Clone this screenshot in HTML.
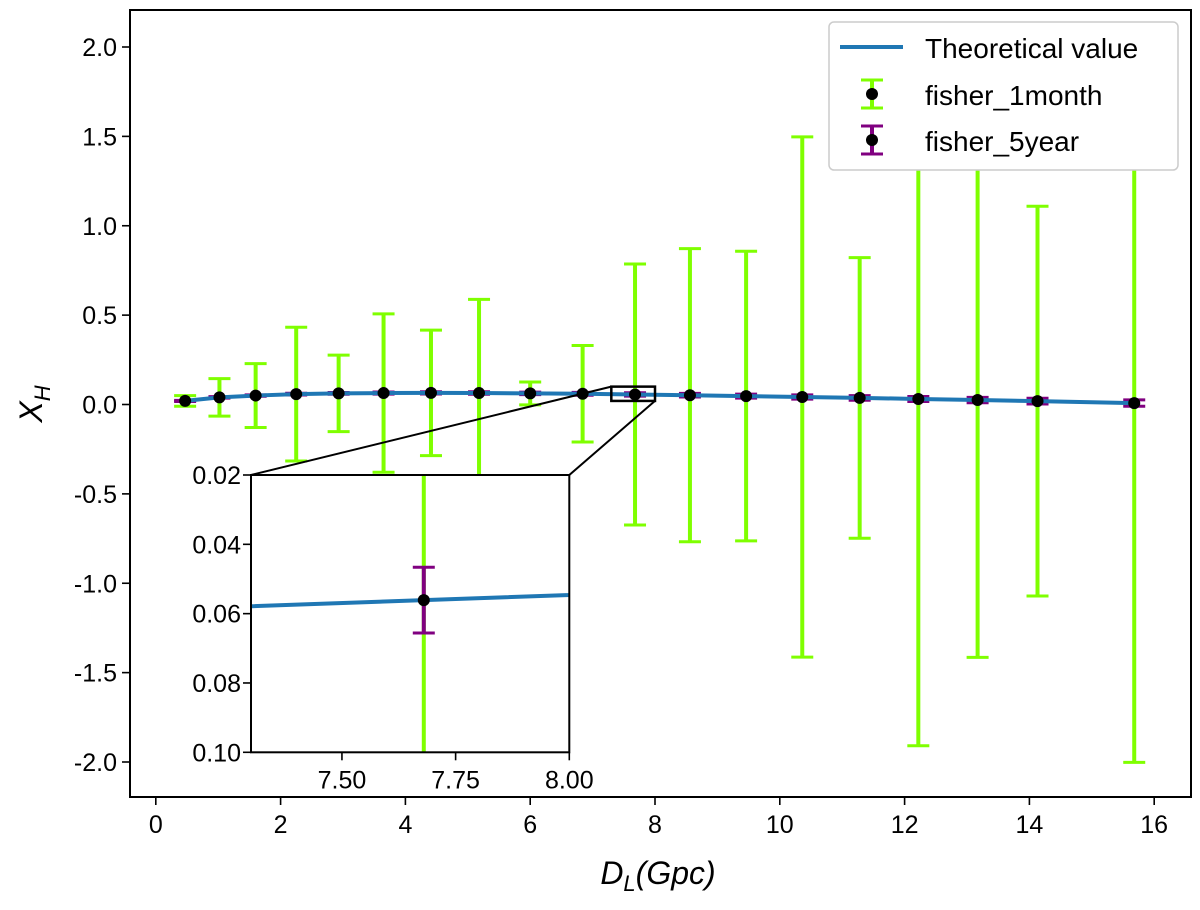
<!DOCTYPE html>
<html><head><meta charset="utf-8"><style>
html,body{margin:0;padding:0;background:#fff;overflow:hidden;}
svg{display:block;font-family:"Liberation Sans",sans-serif;}
</style></head><body>
<svg id="chart" width="1200" height="910" viewBox="0 0 1200 910" xmlns="http://www.w3.org/2000/svg">
<rect width="1200" height="910" fill="#fff"/>
<g id="main"></g>
</svg>
<script>
const distances = [0.47,1.02,1.60,2.25,2.93,3.65,4.41,5.18,6.00,6.84,7.68,8.56,9.46,10.36,11.28,12.22,13.17,14.13,15.68];
const xhValues = [0.020,0.040,0.050,0.058,0.062,0.064,0.065,0.064,0.062,0.060,0.0561,0.052,0.047,0.042,0.037,0.031,0.025,0.019,0.008];
const err1month = [0.03,0.105,0.179,0.374,0.214,0.443,0.351,0.524,0.064,0.27,0.73,0.82,0.81,1.455,0.785,1.94,1.44,1.09,2.01];
const err5year = [0.003,0.004,0.004,0.005,0.005,0.006,0.006,0.007,0.007,0.008,0.0095,0.010,0.011,0.012,0.013,0.014,0.015,0.016,0.018];
const xTicks = [0,2,4,6,8,10,12,14,16];
const yTicks = [2.0,1.5,1.0,0.5,0.0,-0.5,-1.0,-1.5,-2.0];
const insetXTicks = [7.50,7.75,8.00];
const insetYTicks = [0.02,0.04,0.06,0.08,0.10];

const NS="http://www.w3.org/2000/svg";
const root=document.getElementById('main');
function mk(tag,attrs,parent){const e=document.createElementNS(NS,tag);for(const k in attrs)e.setAttribute(k,attrs[k]);(parent||root).appendChild(e);return e;}
const L=130,R=1191,T=10,B=797;
const sx=v=>155.8+v*62.4;
const sy=v=>404.5-v*178.75;
const IL=251,IR=569.3,IT=475,IB=752.3;
const isx=v=>IL+(v-7.30)*(IR-IL)/0.70;
const isy=v=>IT+(v-0.02)*(IB-IT)/0.08;
const FS=25;

mk('defs',{}).innerHTML='<clipPath id="cm"><rect x="'+L+'" y="'+T+'" width="'+(R-L)+'" height="'+(B-T)+'"/></clipPath><clipPath id="ci"><rect x="'+IL+'" y="'+IT+'" width="'+(IR-IL)+'" height="'+(IB-IT)+'"/></clipPath>';

function drawSeries(g,fx,fy,capw,lw){
  distances.forEach((d,i)=>{
    const x=fx(d),y1=fy(xhValues[i]+err1month[i]),y2=fy(xhValues[i]-err1month[i]);
    const gg=mk('g',{},g);
    
    
    mk('line',{x1:x,x2:x,y1:y1,y2:y2,stroke:'#7fff00','stroke-width':4},gg);
    mk('line',{x1:x-capw,x2:x+capw,y1:y1,y2:y1,stroke:'#7fff00','stroke-width':3},gg);
    mk('line',{x1:x-capw,x2:x+capw,y1:y2,y2:y2,stroke:'#7fff00','stroke-width':3},gg);
  });
  distances.forEach((d,i)=>{
    const x=fx(d),y1=fy(xhValues[i]+err5year[i]),y2=fy(xhValues[i]-err5year[i]);
    const gg=mk('g',{},g);
    
    
    mk('line',{x1:x,x2:x,y1:y1,y2:y2,stroke:'#800080','stroke-width':4},gg);
    mk('line',{x1:x-capw,x2:x+capw,y1:y1,y2:y1,stroke:'#800080','stroke-width':3},gg);
    mk('line',{x1:x-capw,x2:x+capw,y1:y2,y2:y2,stroke:'#800080','stroke-width':3},gg);
  });
  const p=mk('polyline',{points:distances.map((d,i)=>fx(d)+','+fy(xhValues[i])).join(' '),fill:'none',stroke:'#1f77b4','stroke-width':lw},g);
  
  
  distances.forEach((d,i)=>{
    const c=mk('circle',{cx:fx(d),cy:fy(xhValues[i]),r:6,fill:'#000'},g);
    
    
  });
}

const gm=mk('g',{'clip-path':'url(#cm)'});


drawSeries(gm,sx,sy,11,4);

const frame=mk('rect',{x:L,y:T,width:R-L,height:B-T,fill:'none',stroke:'#000','stroke-width':2});


xTicks.forEach(v=>{
  mk('line',{x1:sx(v),x2:sx(v),y1:B,y2:B+8,stroke:'#000','stroke-width':1.6});
  const t=mk('text',{x:sx(v),y:B+36,'font-size':FS,'text-anchor':'middle',fill:'#000'});
  t.textContent=String(v);
  
  
});
yTicks.forEach(v=>{
  mk('line',{x1:L-8,x2:L,y1:sy(v),y2:sy(v),stroke:'#000','stroke-width':1.6});
  const t=mk('text',{x:L-13,y:sy(v)+9,'font-size':FS,'text-anchor':'end',fill:'#000'});
  t.textContent=v.toFixed(1);
  
  
});
const xt=mk('text',{x:658,y:884,'font-size':32,'text-anchor':'middle','font-style':'italic',fill:'#000'});
xt.innerHTML='D<tspan font-size="22" dy="7">L</tspan><tspan dy="-7">(Gpc)</tspan>';


const yt=mk('text',{x:0,y:0,'font-size':32,'text-anchor':'middle','font-style':'italic',fill:'#000',transform:'translate(42,404) rotate(-90)'});
yt.innerHTML='X<tspan font-size="22" dy="8">H</tspan>';



const zx1=sx(7.30),zx2=sx(8.0),zy1=sy(0.10),zy2=sy(0.02);
mk('line',{x1:zx1,y1:zy1,x2:IL,y2:IT,stroke:'#000','stroke-width':2});
mk('line',{x1:zx2,y1:zy2,x2:IR,y2:IT,stroke:'#000','stroke-width':2});
const zb=mk('rect',{x:zx1,y:zy1,width:zx2-zx1,height:zy2-zy1,fill:'none',stroke:'#000','stroke-width':2.5});



const ibg=mk('rect',{x:IL,y:IT,width:IR-IL,height:IB-IT,fill:'#fff'});


const gi=mk('g',{'clip-path':'url(#ci)'});


drawSeries(gi,isx,isy,11,4);
mk('rect',{x:IL,y:IT,width:IR-IL,height:IB-IT,fill:'none',stroke:'#000','stroke-width':2});
insetXTicks.forEach(v=>{
  mk('line',{x1:isx(v),x2:isx(v),y1:IB,y2:IB+8,stroke:'#000','stroke-width':1.6});
  const t=mk('text',{x:isx(v),y:IB+36,'font-size':FS,'text-anchor':'middle',fill:'#000'});
  t.textContent=v.toFixed(2);
  
  
});
insetYTicks.forEach(v=>{
  mk('line',{x1:IL-8,x2:IL,y1:isy(v),y2:isy(v),stroke:'#000','stroke-width':1.6});
  const t=mk('text',{x:IL-10,y:isy(v)+9,'font-size':FS,'text-anchor':'end',fill:'#000'});
  t.textContent=v.toFixed(2);
  
  
});

const lg=mk('g',{});


mk('rect',{x:829,y:22,width:349,height:148,rx:5,fill:'#fff',stroke:'#ccc','stroke-width':1.5},lg);
mk('line',{x1:840,x2:903,y1:47,y2:47,stroke:'#1f77b4','stroke-width':4},lg);
function legMark(y,col){
  mk('line',{x1:872,x2:872,y1:y-14,y2:y+14,stroke:col,'stroke-width':4},lg);
  mk('line',{x1:861,x2:883,y1:y-14,y2:y-14,stroke:col,'stroke-width':3},lg);
  mk('line',{x1:861,x2:883,y1:y+14,y2:y+14,stroke:col,'stroke-width':3},lg);
  mk('circle',{cx:872,cy:y,r:6,fill:'#000'},lg);
}
legMark(94,'#7fff00');legMark(140,'#800080');
[['Theoretical value',58,'legend-entry-theoretical'],['fisher_1month',105,'legend-entry-1month'],['fisher_5year',151,'legend-entry-5year']].forEach(([s,y,n])=>{
  const t=mk('text',{x:925,y:y,'font-size':28,fill:'#000'},lg);
  t.textContent=s;
  
  
});
</script>
</body></html>
